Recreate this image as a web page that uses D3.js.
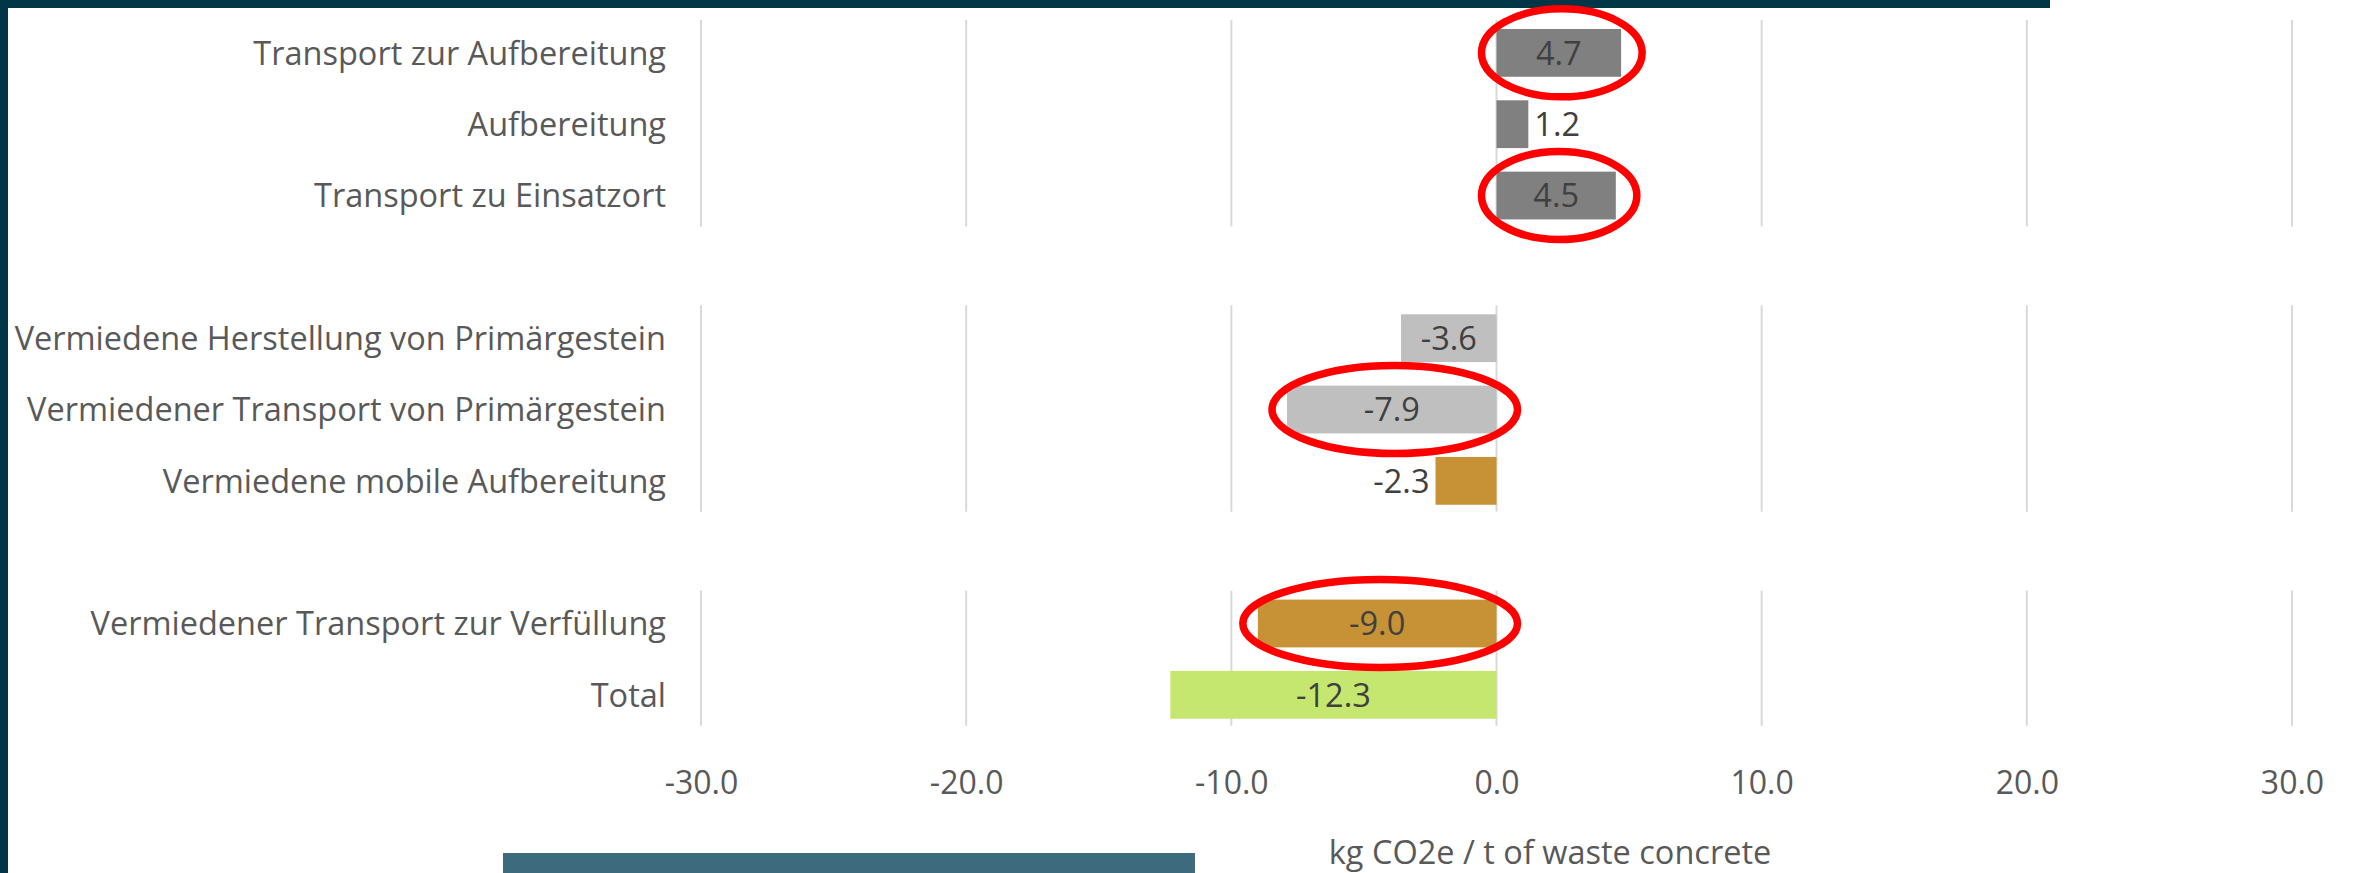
<!DOCTYPE html>
<html>
<head>
<meta charset="utf-8">
<script src="https://cdn.jsdelivr.net/npm/d3@7"></script>
<style>
  html, body { margin: 0; padding: 0; background: #fff; }
  svg { display: block; font-family: 'Open Sans', sans-serif; }
</style>
</head>
<body>
<div data-js-graph></div>
<script>
// categories, empty strings are the spacer rows between the blocks
const categories = [
  'Transport zur Aufbereitung',
  'Aufbereitung',
  'Transport zu Einsatzort',
  '',
  'Vermiedene Herstellung von Primärgestein',
  'Vermiedener Transport von Primärgestein',
  'Vermiedene mobile Aufbereitung',
  '',
  'Vermiedener Transport zur Verfüllung',
  'Total',
];
const values = [4.7, 1.2, 4.5, null, -3.6, -7.9, -2.3, null, -9.0, -12.3];
const barColors = ['#808080', '#808080', '#808080', null, '#bfbfbf', '#bfbfbf', '#c69235', null, '#c69235', '#c6e76f'];
// rows circled in red
const highlighted = [0, 2, 5, 8];
// blocks of rows (first, last) that get their own gridlines
const blocks = [[0, 2], [4, 6], [8, 9]];
const tickValues = [-30, -20, -10, 0, 10, 20, 30];
const axisTitle = 'kg CO2e / t of waste concrete';

const SETTING = {
  width: 2354,
  height: 873,
  dark: '#003646',
  teal: '#3d6b7d',
  grid: '#d9d9d9',
  text: '#595959',
  label: '#404040',
};

const fmt = d3.formatLocale({ decimal: '.', thousands: ',', grouping: [3], currency: ['', ''], minus: '-' }).format('.1f');

const svg = d3.select('[data-js-graph]').append('svg')
  .attr('width', SETTING.width)
  .attr('height', SETTING.height);

const x = d3.scaleLinear().domain([-30, 30]).range([701, 2292]);
const y = d3.scaleBand()
  .domain(d3.range(categories.length))
  .range([17.2, 730.5])
  .paddingInner(0.33)
  .paddingOuter(0.165);

// frame decoration
svg.append('rect').attr('x', 0).attr('y', 0).attr('width', 2050).attr('height', 8).attr('fill', SETTING.dark);
svg.append('rect').attr('x', 0).attr('y', 0).attr('width', 8).attr('height', SETTING.height).attr('fill', SETTING.dark);
svg.append('rect').attr('x', 503).attr('y', 853).attr('width', 692).attr('height', 20).attr('fill', SETTING.teal);

// gridlines, one segment per block
const grid = svg.append('g').attr('data-type', 'grid');
blocks.forEach(([first, last]) => {
  grid.selectAll(null)
    .data(tickValues)
    .enter()
    .append('line')
    .attr('x1', (d) => x(d))
    .attr('x2', (d) => x(d))
    .attr('y1', y(first) - 9)
    .attr('y2', y(last) + y.bandwidth() + 7)
    .attr('stroke', SETTING.grid)
    .attr('stroke-width', 2);
});

const rows = categories.map((c, i) => ({ c, v: values[i], color: barColors[i], i }))
  .filter((d) => d.v !== null);

// bars
svg.append('g')
  .selectAll('rect')
  .data(rows)
  .enter()
  .append('rect')
  .attr('x', (d) => Math.min(x(0), x(d.v)))
  .attr('y', (d) => y(d.i))
  .attr('width', (d) => Math.abs(x(d.v) - x(0)))
  .attr('height', y.bandwidth())
  .attr('fill', (d) => d.color);

// category labels
svg.append('g')
  .selectAll('text')
  .data(rows)
  .enter()
  .append('text')
  .attr('x', x.range()[0] - 35)
  .attr('y', (d) => y(d.i) + y.bandwidth() / 2)
  .attr('dy', '0.36em')
  .attr('text-anchor', 'end')
  .attr('fill', SETTING.text)
  .style('font-size', '32.5px')
  .text((d) => d.c);

// value labels: centered in the bar, outside when the bar is too short
svg.append('g')
  .selectAll('text')
  .data(rows)
  .enter()
  .append('text')
  .attr('y', (d) => y(d.i) + y.bandwidth() / 2)
  .attr('dy', '0.36em')
  .attr('fill', SETTING.label)
  .style('font-size', '32.5px')
  .text((d) => fmt(d.v))
  .each(function (d) {
    const w = this.getComputedTextLength();
    const barW = Math.abs(x(d.v) - x(0));
    const el = d3.select(this);
    if (barW > w + 20) {
      el.attr('x', (x(d.v) + x(0)) / 2).attr('text-anchor', 'middle');
    } else if (d.v >= 0) {
      el.attr('x', x(d.v) + 6).attr('text-anchor', 'start');
    } else {
      el.attr('x', x(d.v) - 6).attr('text-anchor', 'end');
    }
  });

// x axis tick labels
const axis = svg.append('g')
  .attr('transform', 'translate(0,782)')
  .call(d3.axisBottom(x).tickValues(tickValues).tickSize(0).tickFormat(fmt));
axis.select('.domain').remove();
axis.selectAll('text')
  .attr('y', 0)
  .attr('dy', '0.36em')
  .attr('fill', SETTING.text)
  .style('font-family', "'Open Sans', sans-serif")
  .style('font-size', '32px');

// axis title
svg.append('text')
  .attr('x', 1550)
  .attr('y', 864)
  .attr('text-anchor', 'middle')
  .attr('fill', SETTING.text)
  .style('font-size', '32.5px')
  .text(axisTitle);

// red annotation ellipses
svg.append('g')
  .selectAll('ellipse')
  .data(rows.filter((d) => highlighted.includes(d.i)))
  .enter()
  .append('ellipse')
  .attr('cx', (d) => (x(d.v) + x(0)) / 2 + 3)
  .attr('cy', (d) => y(d.i) + y.bandwidth() / 2)
  .attr('rx', (d) => Math.abs(x(d.v) - x(0)) / 2 + 18)
  .attr('ry', 44)
  .attr('fill', 'none')
  .attr('stroke', '#ff0000')
  .attr('stroke-width', 7.5);
</script>
</body>
</html>
